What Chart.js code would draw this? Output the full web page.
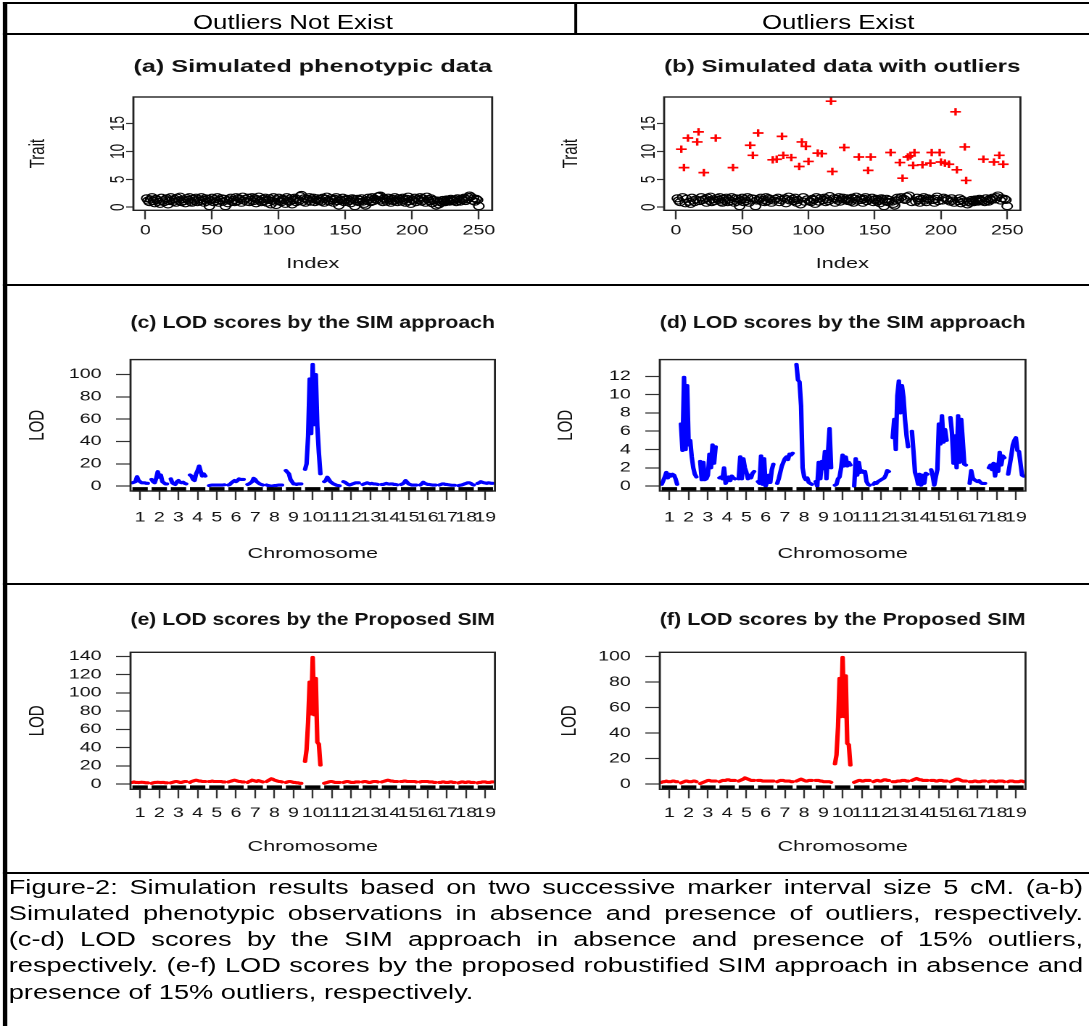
<!DOCTYPE html>
<html>
<head>
<meta charset="utf-8">
<title>Figure-2 simulation results</title>
<script src="https://cdn.jsdelivr.net/npm/chart.js@4.4.1/dist/chart.umd.min.js"></script>
<style>
  html, body { margin: 0; padding: 0; background: #fff; overflow: hidden; }
  /* the whole figure is drawn narrow and stretched sideways, like the reference */
  #page { position: absolute; left: 0; top: 0; width: 751px; height: 1026px;
          transform: scaleX(1.450066); transform-origin: 0 0;
          font-family: "Liberation Sans", Arial, sans-serif; color: #000; }
  .hline { position: absolute; left: 2.4px; width: 760px; height: 2px; background: #000; }
  .vline { position: absolute; width: 2.2px; background: #000; }
  .head { position: absolute; top: 9.5px; font-size: 21px; line-height: 24px; white-space: nowrap; transform: translateX(-50%) scaleX(0.85); }
  .cap { position: absolute; left: 5.7px; width: 760px; font-size: 19.3px; line-height: 20px; white-space: nowrap;
         transform: scaleX(0.975); transform-origin: 0 0; }
  .cap.j { text-align: justify; text-align-last: justify; }
  canvas { position: absolute; }
</style>
</head>
<body>
<div id="page">
  <div class="hline" style="top:2.3px"></div>
  <div class="hline" style="top:33.3px"></div>
  <div class="hline" style="top:283.7px"></div>
  <div class="hline" style="top:583.2px"></div>
  <div class="hline" style="top:872.3px"></div>
  <div class="vline" style="left:2.4px; top:2.3px; height:1030px"></div>
  <div class="vline" style="left:396.3px; top:2.3px; height:33px"></div>

  <div class="head" style="left:201.9px">Outliers Not Exist</div>
  <div class="head" style="left:577.6px">Outliers Exist</div>

  <canvas id="chartA"></canvas>
  <canvas id="chartB"></canvas>
  <canvas id="chartC"></canvas>
  <canvas id="chartD"></canvas>
  <canvas id="chartE"></canvas>
  <canvas id="chartF"></canvas>

  <div class="cap j" style="top:877.5px">Figure-2: Simulation results based on two successive marker interval size 5 cM. (a-b)</div>
  <div class="cap j" style="top:903.8px">Simulated phenotypic observations in absence and presence of outliers, respectively.</div>
  <div class="cap j" style="top:930.1px">(c-d) LOD scores by the SIM approach in absence and presence of 15% outliers,</div>
  <div class="cap j" style="top:956.4px">respectively. (e-f) LOD scores by the proposed robustified SIM approach in absence and</div>
  <div class="cap" style="top:982.7px">presence of 15% outliers, respectively.</div>
</div>

<script>
// ---- data ----
const indexTicks = [0, 50, 100, 150, 200, 250];
const traitTicks = [0, 5, 10, 15];

// simulated trait, observations 1..250
const traitValues = [
  1.6,1.2,0.9,1.4,1.8,1.1,0.7,1.5,1.3,1.0,
  0.6,1.7,1.2,0.9,1.4,1.6,0.5,1.1,1.8,1.3,
  1.0,1.5,0.8,1.7,1.2,1.9,0.9,1.4,1.1,0.7,
  1.6,1.3,1.8,1.0,0.8,1.5,1.2,1.7,0.9,1.4,
  1.1,1.8,1.3,0.8,1.6,1.0,1.5,0.2,1.2,1.7,
  0.9,1.4,1.1,1.8,0.8,1.3,1.6,1.0,1.5,0.2,
  1.2,0.7,1.4,1.7,1.0,1.3,0.9,1.8,1.1,1.6,
  1.4,0.8,1.9,1.2,1.5,1.0,1.7,0.9,1.3,1.8,
  1.1,1.6,0.7,1.4,1.9,1.2,0.9,1.5,1.1,1.7,
  0.8,1.3,1.6,0.5,1.2,1.8,1.0,0.4,1.4,1.7,
  1.1,0.9,1.5,1.3,0.6,1.8,1.2,1.0,1.6,0.5,
  1.3,1.7,0.9,1.4,1.1,2.0,2.2,1.0,1.6,0.8,
  1.5,1.2,1.8,1.0,1.4,1.7,0.9,1.3,1.6,1.1,
  1.4,1.0,1.7,0.8,1.5,1.9,1.2,1.0,1.6,1.3,
  0.8,1.5,1.8,1.1,0.3,1.4,1.2,1.7,0.9,1.3,
  1.5,1.0,1.2,0.7,1.6,1.4,0.2,1.1,1.5,0.9,
  1.3,1.6,1.0,0.6,0.3,1.2,1.7,1.4,0.9,1.8,
  1.1,1.5,1.3,1.9,2.0,2.1,1.2,0.9,1.6,1.4,
  1.0,1.7,1.3,0.8,1.5,1.1,1.8,1.2,0.9,1.6,
  1.4,1.0,1.7,1.3,0.8,1.5,1.9,1.1,0.6,1.4,
  1.2,1.7,0.9,1.5,1.3,1.8,1.0,1.6,1.2,0.8,
  1.9,1.4,1.1,1.6,0.7,1.3,1.0,0.3,1.2,0.5,
  1.0,0.8,1.3,1.1,0.9,1.4,1.2,1.0,1.5,1.3,
  1.1,1.4,0.9,1.6,1.2,1.0,1.5,1.3,1.7,1.1,
  1.4,1.8,2.1,1.9,1.2,1.6,1.0,1.5,1.3,0.2
];

// contaminated observations in panel (b)
const outlierIndex = [4,6,9,16,17,21,30,43,56,58,62,73,76,80,81,87,93,95,98,100,
  107,110,117,118,127,138,145,147,162,169,171,175,177,179,180,186,192,193,199,200,
  203,206,211,212,218,219,232,240,244,247];
const outlierValues = [10.4,7.1,12.4,11.7,13.5,6.2,12.4,7.1,11.1,9.3,13.3,8.5,8.6,12.7,9.3,8.9,7.3,11.7,10.9,8.2,
  9.7,9.6,19.0,6.4,10.7,9.0,6.6,9.0,9.8,8.0,5.2,9.0,9.2,7.5,9.8,7.6,7.9,9.8,9.8,8.1,
  7.9,7.7,17.1,6.7,10.8,4.8,8.6,8.1,9.3,7.7];

const chromosomes = ['1','2','3','4','5','6','7','8','9','10','11','12','13','14','15','16','17','18','19'];
const markerPos = [0, 10, 20, 30, 40, 50, 60, 70, 80, 90, 100];   // cM along each chromosome
const chrLength = 100;
const chrGap = 25;

const lodTicksC = [0, 20, 40, 60, 80, 100];
const lodTicksD = [0, 2, 4, 6, 8, 10, 12];
const lodTicksE = [0, 20, 40, 60, 80, 100, 120, 140];
const lodTicksF = [0, 20, 40, 60, 80, 100];

// (c) SIM, no outliers
const lodSIM = [
  [3,3.5,4,8.5,5,4,3,3,3,2.5,2.5],
  [6,4,3,7,13,8,10,4,3,2,2],
  [6.5,3,2,1.5,4,5,3.5,3,3.5,2.5,2],
  [10,9,6,5,11,14,18,13,9,11,9],
  [0.5,0.8,1,1,1,1,1,1,1,1,1.2],
  [1,1.5,3,4,5,4,5,6.5,6,6,6],
  [1.5,2,3,4,7,6,4,3,2,1.5,1],
  [1,0.5,0.3,0,0.2,0.5,0.5,0.8,1,1,1],
  [14,12.5,11,6,4,2,2,1.5,2,2,2],
  [15,20,45,96,47,109,55,100,54,30,11],
  [4,5,8,6,4,3,2,1.5,0.8,0.5,0.3],
  [4,3.5,2.5,1.5,1,1.5,2,2.5,3,3,3],
  [1.5,2,2.5,3,2.5,2,2.5,2,2,1.8,1.5],
  [1.5,1.5,2,2.5,2,1.8,2,2,1.5,1.5,1.2],
  [1.5,2,3,5,3.5,2,1.5,1,1,1,1],
  [1,2,3.5,2.5,2,1.5,1.5,1.2,1,1,1],
  [1,1.5,2,2,1.5,1.5,1.2,1,0.8,0.8,0.8],
  [0.5,0.8,1,1.5,2,2.5,3,3,2.5,1.5,1],
  [2.5,3,4,3.5,3,2.8,2.5,3,2.8,2.5,2.5]
];

// (d) SIM, 15% outliers
const lodSIMOutliers = [
  [0.2,0.6,1.0,1.5,0.9,1.3,1.1,1.3,1.2,0.8,0.2],
  [6.8,3.9,11.9,4.0,11.0,4.5,5.0,3.2,2.0,1.3,1.0],
  [2.7,0.7,2.6,0.7,0.8,1.2,3.5,2.0,4.5,2.5,4.3],
  [0.9,1.0,0.8,2.0,0.3,0.7,1.0,0.6,1.1,0.9,0.8],
  [0.8,3.2,0.8,3.0,2.0,1.5,0.8,1.2,0.9,1.4,1.6],
  [0.5,0.3,3.3,0.2,3.0,0.0,0.5,1.2,0.4,1.8,2.4],
  [0.3,0.8,1.5,2.2,2.6,3.0,3.2,2.9,3.5,3.4,3.6],
  [13.3,11.6,11.4,8.8,2.0,1.0,0.7,0.9,0.4,0.3,0.2],
  [0.5,0.0,2.6,0.8,2.7,1.9,3.8,0.8,3.7,6.3,2.0],
  [0.1,0.2,0.8,1.0,2.0,3.4,2.2,3.2,2.2,2.6,2.3],
  [0.0,3.0,1.2,2.6,1.5,1.7,1.5,1.6,0.5,0.2,0.1],
  [0.2,0.4,0.3,0.5,0.6,0.7,0.8,0.9,1.2,1.7,1.6],
  [5.3,7.3,4.0,9.9,11.5,8.0,11.0,9.7,7.3,5.5,4.3],
  [6.0,3.8,1.5,1.0,0.2,1.3,0.1,1.2,0.3,1.4,1.3],
  [1.8,1.1,0.1,1.0,1.8,6.8,4.6,7.7,4.8,6.2,5.0],
  [7.5,5.8,2.5,5.5,2.0,7.7,2.6,7.3,5.0,2.4,2.3],
  [0.3,1.7,0.9,0.7,0.6,0.5,0.6,0.4,0.3,0.3,0.3],
  [2.0,2.3,1.8,2.5,1.1,2.4,1.6,3.7,2.3,3.3,3.1],
  [1.3,2.3,3.3,4.5,5.0,5.3,3.9,3.8,2.5,1.2,1.1]
];

// (e) proposed SIM, no outliers
const lodRobust = [
  [2,2.5,2,2,1.8,2,2.2,2,1.8,1.5,1.5],
  [1,1.5,2,2,2.2,2,1.8,2,2,1.5,1.5],
  [1.5,2,2.5,3,3,2.5,2,2,2.5,3,3],
  [2,3,3.5,4,4.5,4,3.5,3.5,3,3,3],
  [3,3,3.5,3,3,3,3,3,3,2.5,2.5],
  [2.5,3,3.5,4,4.5,4,3.5,3,3,2.5,2.5],
  [2,3,3.5,4.5,4,3.5,3,4,3.5,3,2.5],
  [3,4,5,6,5.5,4.5,4,3.5,3,3,2.5],
  [2,2.5,3,3,2.5,2,2,1.5,1.5,1,1],
  [25,38,68,112,77,139,76,116,46,44,21],
  [1,1.5,2,2.5,3,3,2.5,2,2,2,2],
  [2,2.5,3,3,2.5,2,2,2,2.5,2.5,2.5],
  [2.5,3,3,2.5,2,2,2.5,3,3,3,2.5],
  [2.5,3,3.5,4,4.5,4,3.5,3.5,3,3,3],
  [3,3,3.5,3.5,3,3,3,3,3,3,2.5],
  [2.5,3,3,3,3,3,2.5,2.5,2.5,2,2],
  [2,2,2.5,2.5,2,2,2,2.5,2.5,2,2],
  [1.5,2,2.5,2.5,2,2,2.5,2.5,2,2,2],
  [1.5,2,2,2.5,2.5,2.5,2,2,2,2.5,2.5]
];

// (f) proposed SIM, 15% outliers
const lodRobustOutliers = [
  [1.5,2,2,2.5,2,2,2,2.5,2.5,2,2],
  [1,1.5,2,2.5,2.5,2,2,2,2.5,2.5,2],
  [0.5,1,1.5,2,2.5,3,3,2.5,2.5,2.5,2.5],
  [2,2.5,3,3,3,3.5,3.5,3,3,3,3],
  [2.5,3,3.5,4,5,4.5,4,3.5,3,3,3],
  [3,3,3,2.5,2.5,2.5,2.5,2.5,2.5,2.5,2.5],
  [2,2.5,3,3,3,2.5,2.5,2.5,2.5,2,2],
  [2.5,3,3.5,4,3.5,3,2.5,2.5,3,3,3],
  [3,3,3,2.5,2.5,2,2,2,2,2,1.5],
  [16,23,45,83,53,99.5,53,85,32,31,15],
  [1.5,2,2.5,3,3,2.5,2.5,3,3,3,3],
  [2,2.5,3,3,2.5,2.5,3,3.5,3.5,3,3],
  [2,2,2,2.5,2.5,2.5,3,3,3,2.5,2.5],
  [3,3.5,4,4.5,4,3.5,3.5,3,3,3,3],
  [3,3,3,2.5,2.5,3,3,3,2.5,2.5,2.5],
  [2,2.5,3,3.5,4,4,3.5,3,2.5,2.5,2.5],
  [2,2,2,2.5,2.5,2,2,2,2.5,2.5,2.5],
  [2,2.5,2.5,2.5,2,2,2.5,2.5,2.5,2.5,2],
  [2,2.5,2.5,2.5,2,2,2,2,2.5,2.5,2]
];

// ---- drawing ----
const FONT = '"Liberation Sans", Arial, sans-serif';
const INK = '#111';
const AXIS = 78;   // room left of each plot box for tick labels and axis title

// plot box of every panel (x before the sideways stretch, y in page pixels)
const geoA = { boxL: 91.8, boxR: 339.2, boxT: 96.7, boxB: 210, titleY: 66.7, xLabelY: 230.7, xTitleY: 263.3, yTitleX: 26.4 };
const geoB = { boxL: 458.1, boxR: 703.8, boxT: 96.7, boxB: 210, titleY: 66.7, xLabelY: 230.7, xTitleY: 263.3, yTitleX: 393.8 };
const geoC = { boxL: 90.1, boxR: 341.4, boxT: 359.3, boxB: 490.7, titleY: 322.7, xLabelY: 517.3, xTitleY: 554, yTitleX: 25.9 };
const geoD = { boxL: 455.4, boxR: 707.6, boxT: 359.3, boxB: 490.7, titleY: 322.7, xLabelY: 517.3, xTitleY: 554, yTitleX: 390.7 };
const geoE = { boxL: 90.1, boxR: 341.4, boxT: 652.3, boxB: 789.3, titleY: 620, xLabelY: 813.3, xTitleY: 847.3, yTitleX: 25.9 };
const geoF = { boxL: 455.4, boxR: 707.6, boxT: 652.3, boxB: 789.3, titleY: 620, xLabelY: 813.3, xTitleY: 847.3, yTitleX: 393.1 };

const framePlugin = {
  id: 'frame',
  afterDatasetsDraw(chart) {
    const a = chart.chartArea, ctx = chart.ctx;
    ctx.save();
    ctx.strokeStyle = '#222';
    ctx.lineWidth = 1.4;
    ctx.strokeRect(a.left, a.top, a.right - a.left, a.bottom - a.top);
    ctx.restore();
  }
};

// R-style y labels written along the axis
const sideLabels = {
  id: 'sideLabels',
  afterDraw(chart, args, opts) {
    if (!opts.values) return;
    const ctx = chart.ctx, y = chart.scales.y;
    ctx.save();
    ctx.font = '13.5px ' + FONT;
    ctx.fillStyle = INK;
    ctx.textAlign = 'center';
    ctx.textBaseline = 'middle';
    opts.values.forEach(v => {
      ctx.save();
      ctx.translate(chart.chartArea.left - opts.offset, y.getPixelForValue(v));
      ctx.rotate(-Math.PI / 2);
      ctx.fillText(String(v), 0, 0);
      ctx.restore();
    });
    ctx.restore();
  }
};

function placeCanvas(id, g) {
  const c = document.getElementById(id);
  const left = g.boxL - AXIS;
  const top = g.titleY - 14;
  const w = Math.round(g.boxR - g.boxL + 2 * AXIS);
  const h = Math.round(g.xTitleY + 10 - top);
  c.style.left = left + 'px';
  c.style.top = top + 'px';
  c.width = w;
  c.height = h;
  return { c, left, top, w, h };
}

function panelOptions(g, box, title, x, y, rotatedY) {
  const titleLH = 17.5 * 1.2;
  return {
    responsive: false,
    animation: false,
    devicePixelRatio: 2,
    events: [],
    layout: { padding: { left: 0, top: 0, bottom: 0, right: box.w - AXIS - (g.boxR - g.boxL) } },
    plugins: {
      legend: { display: false },
      tooltip: { enabled: false },
      title: {
        display: true, fullSize: false, text: title, color: INK,
        font: { family: FONT, size: 17.5, weight: 'bold' },
        padding: { top: g.titleY - box.top - titleLH / 2, bottom: g.boxT - g.titleY - titleLH / 2 }
      },
      sideLabels: rotatedY ? { values: y.ticks, offset: 10 } : {}
    },
    scales: {
      x: {
        type: 'linear', min: x.min, max: x.max, bounds: 'data',
        afterBuildTicks: s => { s.ticks = x.ticks.map(v => ({ value: v })); },
        afterFit: s => { s.height = box.top + box.h - g.boxB; },
        ticks: {
          autoSkip: false, maxRotation: 0, minRotation: 0, color: INK,
          font: { family: FONT, size: 13.5 },
          padding: g.xLabelY - g.boxB - 9 - 8.1,
          callback: x.label
        },
        grid: { drawOnChartArea: false, tickLength: 9, tickColor: '#333', tickWidth: 1.2 },
        border: { display: false },
        title: { display: true, text: x.title, color: INK, font: { family: FONT, size: 15 }, padding: { top: 0, bottom: 1 } }
      },
      y: {
        type: 'linear', min: y.min, max: y.max, bounds: 'data',
        afterBuildTicks: s => { s.ticks = y.ticks.map(v => ({ value: v })); },
        afterFit: s => { s.width = AXIS; },
        ticks: { display: !rotatedY, color: INK, font: { family: FONT, size: 13.5 }, padding: 10 },
        grid: { drawOnChartArea: false, tickLength: rotatedY ? 5 : 10, tickColor: '#333', tickWidth: 1.2 },
        border: { display: false },
        title: { display: true, text: y.title, color: INK, font: { family: FONT, size: 15 },
                 padding: { top: g.yTitleX - box.left - 9, bottom: 0 } }
      }
    }
  };
}

// ---- (a) and (b): trait against index ----
const traitLow = Math.min(...traitValues);
const traitHigh = Math.max(...outlierValues);
const traitY = { min: traitLow - 0.04 * (traitHigh - traitLow), max: traitHigh + 0.04 * (traitHigh - traitLow), ticks: traitTicks, title: 'Trait' };
const n = traitValues.length;
const indexX = { min: 1 - 0.04 * (n - 1), max: n + 0.04 * (n - 1), ticks: indexTicks, title: 'Index', label: v => String(v) };

function circles(points) {
  return { data: points, pointStyle: 'circle', pointRadius: 3.5, borderColor: '#000', backgroundColor: 'rgba(0,0,0,0)', borderWidth: 1.1 };
}

const boxA = placeCanvas('chartA', geoA);
new Chart(boxA.c, {
  type: 'scatter',
  data: { datasets: [circles(traitValues.map((v, i) => ({ x: i + 1, y: v })))] },
  options: panelOptions(geoA, boxA, '(a) Simulated phenotypic data', indexX, traitY, true),
  plugins: [framePlugin, sideLabels]
});

const boxB = placeCanvas('chartB', geoB);
const cleanPoints = traitValues.map((v, i) => ({ x: i + 1, y: v })).filter(p => !outlierIndex.includes(p.x));
new Chart(boxB.c, {
  type: 'scatter',
  data: {
    datasets: [
      { data: outlierIndex.map((k, i) => ({ x: k, y: outlierValues[i] })), pointStyle: 'cross', pointRadius: 3.7,
        borderColor: '#ff0000', borderWidth: 1.7 },
      circles(cleanPoints)
    ]
  },
  options: panelOptions(geoB, boxB, '(b) Simulated data with outliers', indexX, traitY, true),
  plugins: [framePlugin, sideLabels]
});

// ---- (c)-(f): LOD profiles along the genome ----
function chrStart(i) { return chrGap / 2 + i * (chrLength + chrGap); }

function lodPoints(values) {
  const pts = [];
  values.forEach((chr, i) => {
    chr.forEach((v, k) => pts.push({ x: chrStart(i) + markerPos[k], y: v }));
    pts.push({ x: chrStart(i) + chrLength + chrGap / 2, y: null });
  });
  return pts;
}

function rugPoints(y) {
  const pts = [];
  chromosomes.forEach((c, i) => {
    pts.push({ x: chrStart(i), y }, { x: chrStart(i) + chrLength, y }, { x: chrStart(i) + chrLength + chrGap / 2, y: null });
  });
  return pts;
}

const genomeX = {
  min: 0, max: chromosomes.length * (chrLength + chrGap),
  ticks: chromosomes.map((c, i) => chrStart(i) + chrLength / 2),
  title: 'Chromosome', label: (v, i) => chromosomes[i]
};

function lodPanel(id, g, title, values, ticks, color) {
  const box = placeCanvas(id, g);
  const top = Math.max(...values.flat());
  const y = { min: -0.04 * top, max: 1.04 * top, ticks, title: 'LOD' };
  new Chart(box.c, {
    type: 'line',
    data: {
      datasets: [
        { data: rugPoints(y.min + 0.012 * (y.max - y.min)), borderColor: '#000', borderWidth: 4.5,
          borderCapStyle: 'butt', pointRadius: 0, clip: false, spanGaps: false },
        { data: lodPoints(values), borderColor: color, borderWidth: 3.1, borderJoinStyle: 'round',
          borderCapStyle: 'round', pointRadius: 0, tension: 0, spanGaps: false }
      ]
    },
    options: panelOptions(g, box, title, genomeX, y, false),
    plugins: [framePlugin]
  });
}

lodPanel('chartC', geoC, '(c) LOD scores by the SIM approach', lodSIM, lodTicksC, '#0000ff');
lodPanel('chartD', geoD, '(d) LOD scores by the SIM approach', lodSIMOutliers, lodTicksD, '#0000ff');
lodPanel('chartE', geoE, '(e) LOD scores by the Proposed SIM', lodRobust, lodTicksE, '#ff0000');
lodPanel('chartF', geoF, '(f) LOD scores by the Proposed SIM', lodRobustOutliers, lodTicksF, '#ff0000');
</script>
</body>
</html>
